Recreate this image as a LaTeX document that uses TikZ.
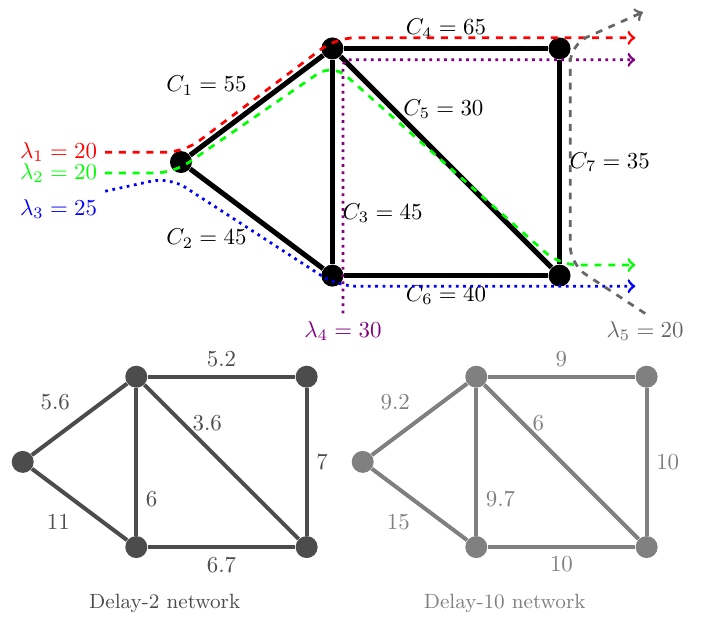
\documentclass[tikz,border=0pt]{standalone}
\begin{document}
\begin{tikzpicture}[x=1.162cm, y=1.162cm,
    vertex/.style={circle, fill, inner sep=0pt, minimum size=9.6pt},
    link/.style={line width=2.2pt},
    slink/.style={line width=1.75pt},
    flow/.style={very thick, rounded corners=8pt, ->}]
    \useasboundingbox (-2.39,-6.0) rectangle (7.0,2.14);
    % Capacity network
    \begin{scope}
        % Routers
        \node[vertex] (v1) at (0,0) {};
        \node[vertex] (v2) at (2,1.5) {};
        \node[vertex] (v3) at (2,-1.5) {};
        \node[vertex] (v4) at (5,1.5) {};
        \node[vertex] (v5) at (5,-1.5) {};
        % Links with capacities
        \draw[link] (v1) -- node[above left] {$C_1 = 55$} (v2);
        \draw[link] (v1) -- node[below left] {$C_2 = 45$} (v3);
        \draw[link] (v2) -- node[pos=0.75, right] {$C_3 = 45$} (v3);
        \draw[link] (v2) -- node[above] {$C_4 = 65$} (v4);
        \draw[link] (v2) -- node[pos=0.25, right] {$C_5 = 30$} (v5);
        \draw[link] (v3) -- node[below] {$C_6 = 40$} (v5);
        \draw[link] (v4) -- node[right] {$C_7 = 35$} (v5);
        % Demands
        \node[red, anchor=east] (l1) at (-1,0.13) {$\lambda_1 = 20$};
        \node[green, anchor=east] (l2) at (-1,-0.145) {$\lambda_2 = 20$};
        \node[blue, anchor=east] (l3) at (-1,-0.62) {$\lambda_3 = 25$};
        \node[violet, below] (l4) at (2.14,-2.0) {$\lambda_4 = 30$};
        \node[black!60, below] (l5) at (6.13,-2.0) {$\lambda_5 = 20$};
        % Exits
        \coordinate (o1) at (6,1.64);
        \coordinate (o2) at (6,-1.36);
        \coordinate (o3) at (6,-1.64);
        \coordinate (o4) at (6,1.35);
        \coordinate (o5) at (6.1,1.98);
        % Flow paths
        \draw[flow, red, dashed] (l1.east) -- (0.04,0.13) -- (2.05,1.64) -- (o1);
        \draw[flow, green, dashed] (l2.east) -- (-0.1,-0.145) -- (2.0,1.3) -- (5.0,-1.36) -- (o2);
        \draw[flow, blue, dotted] (l3.north east) -- (-0.15,-0.2) -- (2.07,-1.64) -- (o3);
        \draw[flow, violet, dotted, rounded corners=3pt] (l4.north) -- (2.14,1.35) -- (o4);
        \draw[flow, black!60, dashed] (l5.north) -- (5.14,-1.35) -- (5.14,1.55) -- (o5);
    \end{scope}
    % Delay-2 network
    \begin{scope}[shift={(-2.09,-3.96)}, scale=0.75, black!70]
        \node[vertex] (p1) at (0,0) {};
        \node[vertex] (p2) at (2,1.5) {};
        \node[vertex] (p3) at (2,-1.5) {};
        \node[vertex] (p4) at (5,1.5) {};
        \node[vertex] (p5) at (5,-1.5) {};
        \draw[slink] (p1) -- node[above left] {5.6} (p2);
        \draw[slink] (p1) -- node[below left] {11} (p3);
        \draw[slink] (p2) -- node[pos=0.75, right] {6} (p3);
        \draw[slink] (p2) -- node[above] {5.2} (p4);
        \draw[slink] (p2) -- node[pos=0.25, right] {3.6} (p5);
        \draw[slink] (p3) -- node[below] {6.7} (p5);
        \draw[slink] (p4) -- node[right] {7} (p5);
        % Title
        \node[font=\small] (t1) at (2.5,-2.49) {Delay-2 network};
    \end{scope}
    % Delay-10 network
    \begin{scope}[shift={(2.4,-3.96)}, scale=0.75, black!50]
        \node[vertex] (q1) at (0,0) {};
        \node[vertex] (q2) at (2,1.5) {};
        \node[vertex] (q3) at (2,-1.5) {};
        \node[vertex] (q4) at (5,1.5) {};
        \node[vertex] (q5) at (5,-1.5) {};
        \draw[slink] (q1) -- node[above left] {9.2} (q2);
        \draw[slink] (q1) -- node[below left] {15} (q3);
        \draw[slink] (q2) -- node[pos=0.75, right] {9.7} (q3);
        \draw[slink] (q2) -- node[above] {9} (q4);
        \draw[slink] (q2) -- node[pos=0.25, right] {6} (q5);
        \draw[slink] (q3) -- node[below] {10} (q5);
        \draw[slink] (q4) -- node[right] {10} (q5);
        % Title
        \node[font=\small] (t2) at (2.5,-2.49) {Delay-10 network};
    \end{scope}
\end{tikzpicture}
\end{document}
